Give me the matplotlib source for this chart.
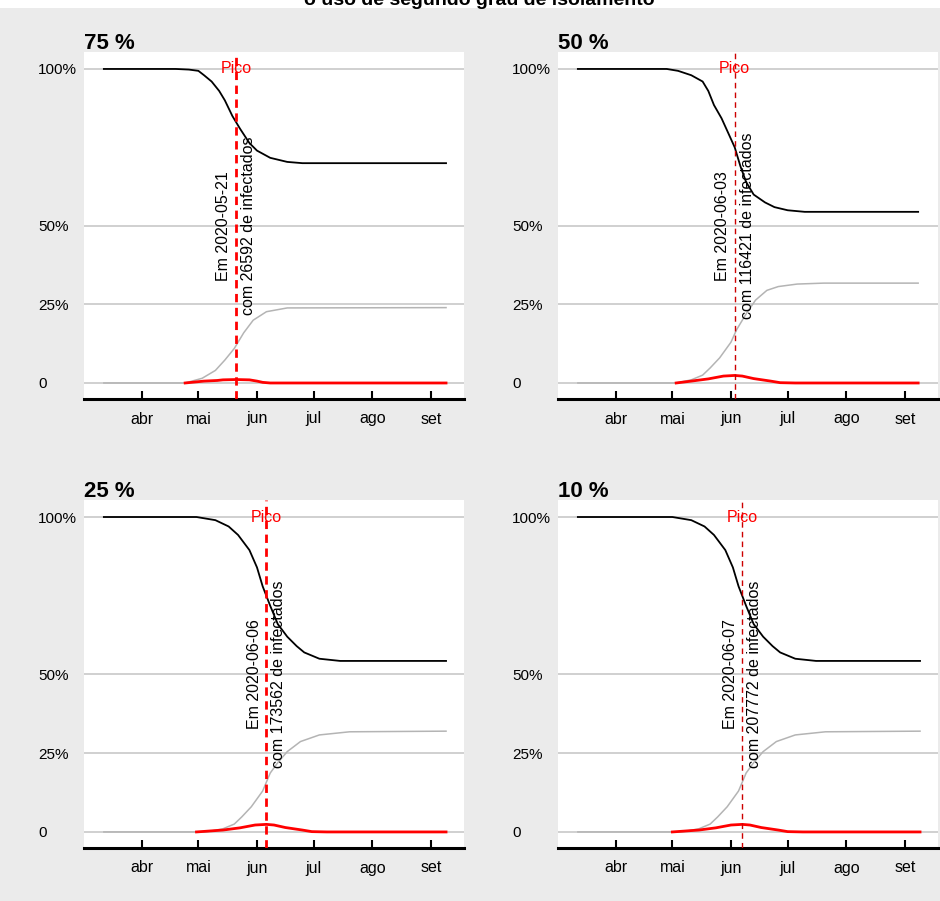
import matplotlib
matplotlib.use("Agg")
import matplotlib.pyplot as plt
import matplotlib.patches as patches
import pandas as pd

plt.rcParams['font.family'] = ['Liberation Sans', 'DejaVu Sans']

# ---- data ----
panel_titles = ['75 %', '50 %', '25 %', '10 %']
peak_dates = ['2020-05-21', '2020-06-03', '2020-06-06', '2020-06-07']
peak_infected = [26592, 116421, 173562, 207772]
month_ticks = ['2020-04-01', '2020-05-01', '2020-06-01', '2020-07-01', '2020-08-01', '2020-09-01']
month_labels = ['abr', 'mai', 'jun', 'jul', 'ago', 'set']
y_ticks = [0, 25, 50, 100]
y_labels = ['0', '25%', '50%', '100%']

# susceptible (black)
sus_75_dates = ['2020-03-12', '2020-04-19', '2020-04-26', '2020-05-01', '2020-05-04', '2020-05-08',
                '2020-05-12', '2020-05-15', '2020-05-19', '2020-05-23', '2020-05-28', '2020-06-01',
                '2020-06-08', '2020-06-17', '2020-06-25', '2020-09-09']
sus_75 = [100, 100, 99.8, 99.4, 98, 96, 93, 90, 85, 81, 76.4, 74, 71.7, 70.4, 70, 70]

sus_50_dates = ['2020-03-12', '2020-04-28', '2020-05-04', '2020-05-11', '2020-05-17', '2020-05-20',
                '2020-05-23', '2020-05-27', '2020-05-31', '2020-06-03', '2020-06-06', '2020-06-09',
                '2020-06-13', '2020-06-19', '2020-06-24', '2020-07-01', '2020-07-10', '2020-09-08']
sus_50 = [100, 100, 99.4, 98, 96, 93, 88.5, 84.3, 79, 75, 69, 64, 60, 57.5, 56, 55, 54.5, 54.5]

sus_25_dates = ['2020-03-12', '2020-04-30', '2020-05-02', '2020-05-10', '2020-05-17', '2020-05-22',
                '2020-05-28', '2020-06-01', '2020-06-04', '2020-06-08', '2020-06-12', '2020-06-17',
                '2020-06-22', '2020-06-26', '2020-07-04', '2020-07-15', '2020-09-09']
sus_25 = [100, 100, 99.8, 99, 97, 94.3, 89.5, 84, 78, 71.8, 66, 62, 59, 57, 55, 54.3, 54.3]

sus_10_dates = ['2020-03-12', '2020-05-01', '2020-05-03', '2020-05-11', '2020-05-18', '2020-05-23',
                '2020-05-29', '2020-06-02', '2020-06-05', '2020-06-09', '2020-06-13', '2020-06-18',
                '2020-06-23', '2020-06-27', '2020-07-05', '2020-07-16', '2020-09-09']
sus_10 = [100, 100, 99.8, 99, 97, 94.3, 89.5, 84, 78, 71.8, 66, 62, 59, 57, 55, 54.3, 54.3]

# recovered (grey)
rec_75_dates = ['2020-03-12', '2020-04-24', '2020-05-03', '2020-05-10', '2020-05-15', '2020-05-20',
                '2020-05-25', '2020-05-30', '2020-06-06', '2020-06-17', '2020-09-09']
rec_75 = [0, 0, 1.5, 4, 7.3, 11, 16, 20, 22.7, 23.9, 24]

rec_50_dates = ['2020-03-12', '2020-05-03', '2020-05-11', '2020-05-17', '2020-05-21', '2020-05-26',
                '2020-06-01', '2020-06-04', '2020-06-09', '2020-06-14', '2020-06-20', '2020-06-26',
                '2020-07-06', '2020-07-20', '2020-09-08']
rec_50 = [0, 0, 1, 2.5, 4.8, 8, 13, 17, 22, 26.4, 29.5, 30.7, 31.5, 31.8, 31.8]

rec_25_dates = ['2020-03-12', '2020-05-05', '2020-05-14', '2020-05-20', '2020-05-24', '2020-05-29',
                '2020-06-04', '2020-06-08', '2020-06-12', '2020-06-17', '2020-06-24', '2020-07-04',
                '2020-07-20', '2020-09-09']
rec_25 = [0, 0, 1, 2.5, 4.8, 8, 13, 18.7, 22, 25.5, 28.7, 30.8, 31.8, 32]

rec_10_dates = ['2020-03-12', '2020-05-06', '2020-05-15', '2020-05-21', '2020-05-25', '2020-05-30',
                '2020-06-05', '2020-06-09', '2020-06-13', '2020-06-18', '2020-06-25', '2020-07-05',
                '2020-07-21', '2020-09-09']
rec_10 = [0, 0, 1, 2.5, 4.8, 8, 13, 18.7, 22, 25.5, 28.7, 30.8, 31.8, 32]

# infected (red)
inf_75_dates = ['2020-04-24', '2020-05-04', '2020-05-11', '2020-05-14', '2020-05-21', '2020-05-28',
                '2020-06-01', '2020-06-04', '2020-06-08', '2020-09-09']
inf_75 = [0, 0.6, 0.8, 1.0, 1.1, 1.0, 0.6, 0.2, 0, 0]

inf_50_dates = ['2020-05-03', '2020-05-11', '2020-05-20', '2020-05-28', '2020-06-03', '2020-06-07',
                '2020-06-13', '2020-06-22', '2020-06-27', '2020-07-05', '2020-09-08']
inf_50 = [0, 0.6, 1.3, 2.2, 2.4, 2.2, 1.4, 0.6, 0.1, 0, 0]

inf_25_dates = ['2020-04-30', '2020-05-14', '2020-05-23', '2020-05-31', '2020-06-06', '2020-06-10',
                '2020-06-16', '2020-06-25', '2020-06-30', '2020-07-08', '2020-09-09']
inf_25 = [0, 0.6, 1.3, 2.2, 2.4, 2.2, 1.4, 0.6, 0.1, 0, 0]

inf_10_dates = ['2020-05-01', '2020-05-15', '2020-05-24', '2020-06-01', '2020-06-07', '2020-06-11',
                '2020-06-17', '2020-06-26', '2020-07-01', '2020-07-09', '2020-09-09']
inf_10 = [0, 0.6, 1.3, 2.2, 2.4, 2.2, 1.4, 0.6, 0.1, 0, 0]

sus_series = [(sus_75_dates, sus_75), (sus_50_dates, sus_50), (sus_25_dates, sus_25), (sus_10_dates, sus_10)]
rec_series = [(rec_75_dates, rec_75), (rec_50_dates, rec_50), (rec_25_dates, rec_25), (rec_10_dates, rec_10)]
inf_series = [(inf_75_dates, inf_75), (inf_50_dates, inf_50), (inf_25_dates, inf_25), (inf_10_dates, inf_10)]

# ---- layout (pixel boxes: left, right, top, bottom) ----
W, H = 940, 901
boxes = [(84, 464, 52, 399), (558, 938, 52, 399),
         (84, 464, 500, 848), (558, 938, 500, 848)]
vline_style = [dict(lw=2, color='#FF0000', dashes=(3, 2)),
               dict(lw=1, color='#CC0000', dashes=(4, 3)),
               dict(lw=2, color='#FF0000', dashes=(3, 2)),
               dict(lw=1, color='#CC0000', dashes=(4, 3))]

fig = plt.figure(figsize=(W / 100, H / 100), dpi=100)
fig.patch.set_facecolor('#EBEBEB')

# white strip on top where the (cropped) main title sits
fig.patches.append(patches.Rectangle((0, 1 - 8 / H), 1, 8 / H, transform=fig.transFigure,
                                     facecolor='white', edgecolor='none', zorder=0))
fig.text(0.51, 1 - 5 / H, 'o uso de segundo grau de isolamento', ha='center', va='baseline',
         fontsize=14, fontweight='bold', color='black')

for i in range(4):
    l, r, t, b = boxes[i]
    ax = fig.add_axes([l / W, 1 - b / H, (r - l) / W, (b - t) / H])
    ax.set_facecolor('white')

    d, v = sus_series[i]
    ax.plot(pd.to_datetime(d), v, color='black', lw=1.3, zorder=3)
    d, v = rec_series[i]
    ax.plot(pd.to_datetime(d), v, color='#B4B4B4', lw=1.1, zorder=3)
    d, v = inf_series[i]
    ax.plot(pd.to_datetime(d), v, color='#FF0000', lw=2, zorder=4)

    peak = pd.Timestamp(peak_dates[i])
    ax.axvline(peak, zorder=5, **vline_style[i])
    ax.text(peak, 100, 'Pico', color='#FF0000', ha='center', va='center', fontsize=11.5, zorder=6)
    ax.text(peak, 50, 'Em %s\ncom %d de infectados' % (peak_dates[i], peak_infected[i]),
            rotation=90, ha='center', va='center', multialignment='center',
            fontsize=11.5, linespacing=1.8, zorder=6)

    ax.set_xlim(pd.Timestamp('2020-03-01 12:00'), pd.Timestamp('2020-09-18 12:00'))
    ax.set_ylim(-5.1, 105.4)
    ax.set_yticks(y_ticks)
    ax.set_yticklabels(y_labels)
    for lab in ax.get_yticklabels():
        lab.set_horizontalalignment('left')
    ax.set_xticks(pd.to_datetime(month_ticks))
    ax.set_xticklabels(month_labels)
    ax.yaxis.grid(True, color='#C8C8C8', lw=1.2)
    ax.set_axisbelow(True)

    for s in ['top', 'right', 'left']:
        ax.spines[s].set_visible(False)
    ax.spines['bottom'].set_linewidth(2.2)
    ax.spines['bottom'].set_color('black')
    # labels start 46 px left of the panel edge (left aligned)
    ax.tick_params(axis='y', length=0, pad=46 * 72 / 100, labelsize=11)
    ax.tick_params(axis='x', direction='in', length=6, width=1.5, pad=9, labelsize=11.5)

    ax.text(0, 1 + 3 / (b - t), panel_titles[i], transform=ax.transAxes, ha='left', va='baseline',
            fontsize=16, fontweight='bold')

fig.savefig('out.png', dpi=100, facecolor=fig.get_facecolor())
